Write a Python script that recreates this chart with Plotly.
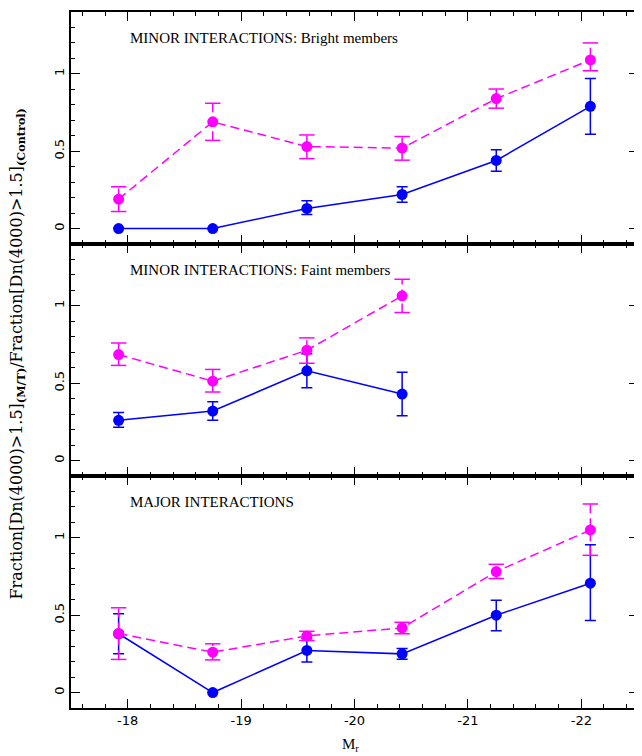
import plotly.graph_objects as go
from plotly.subplots import make_subplots

# ---------------- data ----------------
mag_bins = [-17.92, -18.75, -19.58, -20.42, -21.25, -22.08]
x_tick_vals = [-18, -19, -20, -21, -22]
x_tick_text = ["-18", "-19", "-20", "-21", "-22"]
panel_titles = ["MINOR INTERACTIONS: Bright members",
                "MINOR INTERACTIONS: Faint members",
                "MAJOR INTERACTIONS"]

# Panel 1: minor interactions, bright members
bright_blue = [0.0, 0.0, 0.13, 0.22, 0.44, 0.79]
bright_blue_up = [0.0, 0.0, 0.05, 0.05, 0.07, 0.18]
bright_blue_dn = [0.0, 0.0, 0.04, 0.05, 0.07, 0.18]
bright_mag = [0.19, 0.69, 0.53, 0.52, 0.84, 1.09]
bright_mag_up = [0.08, 0.12, 0.075, 0.075, 0.062, 0.11]
bright_mag_dn = [0.08, 0.12, 0.078, 0.078, 0.062, 0.07]

# Panel 2: minor interactions, faint members
faint_blue = [0.26, 0.32, 0.58, 0.43]
faint_blue_up = [0.05, 0.06, 0.11, 0.14]
faint_blue_dn = [0.045, 0.06, 0.11, 0.14]
faint_mag = [0.685, 0.513, 0.713, 1.065]
faint_mag_up = [0.075, 0.076, 0.08, 0.107]
faint_mag_dn = [0.07, 0.07, 0.084, 0.108]

# Panel 3: major interactions
major_blue = [0.38, 0.0, 0.272, 0.25, 0.50, 0.707]
major_blue_up = [0.13, 0.0, 0.075, 0.035, 0.097, 0.248]
major_blue_dn = [0.13, 0.0, 0.075, 0.035, 0.10, 0.242]
major_mag = [0.381, 0.261, 0.366, 0.418, 0.782, 1.051]
major_mag_up = [0.167, 0.054, 0.03, 0.036, 0.047, 0.168]
major_mag_dn = [0.167, 0.05, 0.03, 0.038, 0.045, 0.164]

panels = [
    (bright_blue, bright_blue_up, bright_blue_dn, bright_mag, bright_mag_up, bright_mag_dn),
    (faint_blue, faint_blue_up, faint_blue_dn, faint_mag, faint_mag_up, faint_mag_dn),
    (major_blue, major_blue_up, major_blue_dn, major_mag, major_mag_up, major_mag_dn),
]

# ---------------- style ----------------
BLUE = "#0000FF"
MAGENTA = "#FF00FF"
DASH = "9px,5px"
LW = 1.5
MSIZE = 11
CAP = 5.5
SERIF = "Liberation Serif"
TICKFONT = dict(family="DejaVu Sans", size=13, color="black")

fig = make_subplots(rows=3, cols=1, shared_xaxes=True, vertical_spacing=0)

for i, (by, bup, bdn, my, mup, mdn) in enumerate(panels):
    row = i + 1
    xs = mag_bins[:len(by)]
    # blue solid series with solid error bars
    fig.add_trace(go.Scatter(
        x=xs, y=by, mode="lines+markers",
        line=dict(color=BLUE, width=LW),
        marker=dict(color=BLUE, size=MSIZE),
        error_y=dict(type="data", symmetric=False, array=bup, arrayminus=bdn,
                     color=BLUE, thickness=LW, width=CAP),
        showlegend=False, hoverinfo="skip"), row=row, col=1)
    # magenta dashed error bars (vertical segments)
    ex, ey = [], []
    for xv, yv, u, d in zip(xs, my, mup, mdn):
        ex += [xv, xv, None]
        ey += [yv - d, yv + u, None]
    fig.add_trace(go.Scatter(
        x=ex, y=ey, mode="lines",
        line=dict(color=MAGENTA, width=LW, dash=DASH),
        showlegend=False, hoverinfo="skip"), row=row, col=1)
    # magenta caps
    cx, cy = [], []
    for xv, yv, u, d in zip(xs, my, mup, mdn):
        cx += [xv, xv]
        cy += [yv - d, yv + u]
    fig.add_trace(go.Scatter(
        x=cx, y=cy, mode="markers",
        marker=dict(symbol="line-ew", size=2 * CAP, color=MAGENTA,
                    line=dict(color=MAGENTA, width=LW)),
        showlegend=False, hoverinfo="skip"), row=row, col=1)
    # magenta dashed series
    fig.add_trace(go.Scatter(
        x=xs, y=my, mode="lines+markers",
        line=dict(color=MAGENTA, width=LW, dash=DASH),
        marker=dict(color=MAGENTA, size=MSIZE),
        showlegend=False, hoverinfo="skip"), row=row, col=1)

    fig.add_annotation(text=panel_titles[i], xref=f"x{'' if row == 1 else row} domain",
                       yref=f"y{'' if row == 1 else row} domain",
                       x=0.100, y=0.886, xanchor="left", yanchor="middle",
                       showarrow=False, font=dict(family=SERIF, size=15, color="black"))

common_axis = dict(showline=True, linewidth=1.6, linecolor="black", mirror="ticks",
                   ticks="inside", tickcolor="black", tickwidth=1.3,
                   showgrid=False, zeroline=False, tickfont=TICKFONT)

for row in (1, 2, 3):
    fig.update_xaxes(range=[-17.5, -22.5], tickvals=x_tick_vals, ticktext=x_tick_text,
                     ticklen=9,
                     minor=dict(dtick=0.2, tick0=-18, ticklen=4.5, ticks="inside",
                                tickcolor="black", tickwidth=1.1, showgrid=False),
                     showticklabels=(row == 3), row=row, col=1, **common_axis)
    fig.update_yaxes(range=[-0.1, 1.4], tickvals=[0, 0.5, 1], ticktext=["0", "0.5", "1"],
                     tickangle=-90, ticklen=9,
                     minor=dict(dtick=0.1, tick0=0, ticklen=4.5, ticks="inside",
                                tickcolor="black", tickwidth=1.1, showgrid=False),
                     row=row, col=1, **common_axis)

fig.add_annotation(
    text="Fraction[Dn(4000)&gt;1.5]<sub><b>(M/T)</b></sub>/Fraction[Dn(4000)&gt;1.5]<sub><b>(Control)</b></sub>",
    xref="paper", yref="paper", x=-0.095, y=0.508, xanchor="center", yanchor="middle",
    textangle=-90, showarrow=False, font=dict(family="DejaVu Serif", size=16, color="black"))

fig.add_annotation(text="M<sub>r</sub>", xref="paper", yref="paper",
                   x=0.493, y=-0.053, xanchor="center", yanchor="middle",
                   showarrow=False, font=dict(family=SERIF, size=15, color="black"))

# the page body has an 8px margin, so the figure is sized and offset to compensate
fig.update_layout(width=634, height=748, margin=dict(l=63, r=2, t=2, b=48),
                  plot_bgcolor="white", paper_bgcolor="white", showlegend=False)

fig.write_html("out.html")
